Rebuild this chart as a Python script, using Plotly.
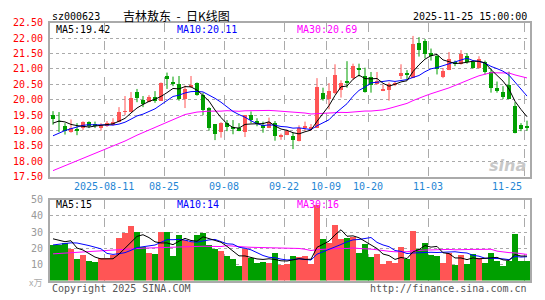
import plotly.graph_objects as go
import pandas as pd

# ---------------- data ----------------
holidays = ["2025-10-01", "2025-10-02", "2025-10-03", "2025-10-06", "2025-10-07", "2025-10-08"]
dates = [d.strftime("%Y-%m-%d") for d in pd.bdate_range("2025-07-29", "2025-11-25")
         if d.strftime("%Y-%m-%d") not in holidays]

opens = [19.50, 19.31, 19.17, 18.96, 19.05, 19.08, 19.29, 19.21, 19.08, 19.16,
         19.20, 19.29, 19.62, 19.60, 20.25, 20.00, 19.94, 20.10, 19.97, 20.77,
         20.58, 20.52, 20.02, 20.44, 20.54, 20.18, 19.73, 19.21, 18.98, 19.27,
         19.14, 19.10, 18.98, 19.50, 19.31, 19.19, 19.10, 19.27, 18.82, 18.88,
         18.85, 18.67, 19.08, 19.06, 19.08, 20.23, 20.04, 20.23, 20.33, 20.61,
         20.70, 21.02, 20.77, 20.75, 20.52, 20.31, 20.33, 20.49, 20.77, 20.87,
         20.72, 21.84, 21.93, 21.53, 21.43, 20.75, 20.99, 21.22, 21.17, 21.43,
         21.22, 21.03, 21.22, 20.91, 20.39, 20.26, 20.49, 19.81, 19.19, 19.14]
highs = [19.63, 19.60, 19.24, 19.36, 19.24, 19.30, 19.30, 19.29, 19.24, 19.31,
         19.40, 19.76, 20.12, 20.25, 20.35, 20.12, 20.15, 20.28, 20.56, 20.88,
         20.75, 20.77, 20.46, 20.77, 20.56, 20.23, 19.76, 19.21, 19.27, 19.34,
         19.34, 19.24, 19.50, 19.62, 19.40, 19.29, 19.42, 19.31, 18.90, 19.03,
         18.93, 19.17, 19.29, 19.21, 20.70, 20.39, 20.54, 21.15, 20.63, 21.25,
         21.17, 21.17, 21.04, 20.90, 20.90, 20.49, 20.56, 20.59, 21.15, 20.96,
         22.07, 22.03, 21.97, 21.66, 21.45, 21.03, 21.55, 21.27, 21.61, 21.51,
         21.27, 21.41, 21.27, 21.01, 20.59, 20.44, 20.91, 19.92, 19.24, 19.32]
lows = [19.19, 18.95, 18.87, 18.93, 18.85, 19.02, 19.08, 19.08, 19.00, 19.12,
        19.16, 19.27, 19.50, 19.60, 19.92, 19.76, 19.92, 19.90, 19.97, 20.35,
        20.44, 19.97, 19.73, 20.38, 20.13, 19.50, 19.00, 18.69, 18.77, 18.98,
        18.88, 18.98, 18.79, 19.24, 19.14, 18.93, 19.08, 18.67, 18.70, 18.85,
        18.40, 18.65, 18.98, 19.00, 19.08, 19.97, 19.69, 20.18, 20.07, 20.39,
        20.65, 20.75, 20.23, 20.23, 20.49, 20.28, 19.97, 20.44, 20.67, 20.65,
        20.70, 21.40, 21.34, 21.27, 20.82, 20.70, 20.96, 21.09, 21.14, 21.17,
        21.01, 21.01, 20.82, 20.23, 20.23, 20.02, 20.02, 18.91, 18.98, 18.99]
closes = [19.40, 19.29, 19.01, 19.08, 19.02, 19.29, 19.17, 19.17, 19.20, 19.26,
          19.29, 19.60, 19.63, 20.07, 20.07, 19.86, 20.10, 19.97, 20.54, 20.68,
          20.54, 20.02, 20.35, 20.49, 20.15, 19.69, 19.10, 18.90, 19.27, 19.14,
          19.09, 19.00, 19.50, 19.34, 19.21, 19.08, 19.29, 18.82, 18.85, 19.00,
          18.69, 19.10, 19.16, 19.13, 20.42, 20.02, 20.31, 20.81, 20.54, 20.54,
          21.11, 20.99, 20.25, 20.49, 20.61, 20.33, 20.52, 20.56, 20.87, 20.80,
          21.82, 21.61, 21.48, 21.43, 21.01, 20.93, 21.34, 21.17, 21.48, 21.22,
          21.03, 21.34, 20.91, 20.39, 20.28, 20.10, 20.05, 18.93, 19.06, 19.10]
volumes = [22.0, 22.0, 23.4, 19.5, 13.5, 15.9, 12.1, 11.5, 13.9, 13.9,
           15.9, 26.4, 29.8, 33.9, 30.5, 21.0, 17.5, 16.7, 30.5, 30.5,
           15.7, 28.2, 25.4, 24.0, 28.2, 29.4, 22.4, 19.8, 18.5, 15.5,
           13.3, 9.2, 19.5, 13.9, 10.9, 11.7, 11.3, 17.3, 9.8, 10.2,
           15.5, 14.7, 15.1, 10.4, 46.8, 26.2, 23.2, 34.5, 26.2, 26.8,
           27.4, 17.3, 22.6, 14.9, 16.7, 10.4, 12.5, 10.8, 20.9, 13.3,
           31.0, 19.7, 23.2, 16.1, 15.5, 11.3, 17.3, 9.6, 16.1, 10.4,
           16.7, 14.3, 10.8, 17.3, 12.5, 9.0, 12.5, 29.2, 12.5, 12.5]

# moving-average values read at the start of the window (history not shown)
ma5_head_idx = [0, 1, 2, 3]
ma5_head = [19.24, 19.31, 19.28, 19.20]
ma10_head_idx = [0, 1, 2, 3, 4, 5, 6, 7, 8]
ma10_head = [18.83, 18.92, 19.00, 19.06, 19.12, 19.17, 19.19, 19.19, 19.19]
ma30_head_idx = [0, 2, 4, 6, 8, 10, 12, 14, 16, 18, 20, 22, 24, 26, 28]
ma30_head = [17.70, 17.86, 18.04, 18.20, 18.36, 18.52, 18.66, 18.85, 19.02, 19.20,
             19.37, 19.52, 19.60, 19.63, 19.63]
vma5_head_idx = [0, 1, 2, 3]
vma5_head = [25.8, 24.9, 24.0, 24.6]
vma10_head_idx = [0, 1, 2, 3, 4, 5, 6, 7, 8]
vma10_head = [22.0, 22.5, 23.0, 23.3, 23.2, 22.5, 21.6, 20.6, 19.6]
vma30_head_idx = [0, 5, 10, 15, 20, 25, 28]
vma30_head = [16.5, 17.7, 18.6, 20.0, 20.6, 21.2, 21.0]

tick_dates = ["2025-08-11", "2025-08-25", "2025-09-08", "2025-09-22", "2025-10-09",
              "2025-10-20", "2025-11-03", "2025-11-25"]
tick_labels = ["2025-08-11", "08-25", "09-08", "09-22", "10-09", "10-20", "11-03", "11-25"]
price_ticks = [17.5, 18.0, 18.5, 19.0, 19.5, 20.0, 20.5, 21.0, 21.5, 22.0, 22.5]
vol_ticks = [10, 20, 30, 40, 50]

# ---------------- helpers ----------------
RED = "#ff5555"
GREEN = "#009f00"
MONO = "DejaVu Sans Mono"
W, H = 545, 300
n = len(closes)
xs = list(range(n))


def py(pix):
    return 1 - pix / H


def sma(vals, k, head_idx, head_vals):
    ix = list(head_idx)
    out = list(head_vals)
    for i in range(k - 1, len(vals)):
        ix.append(i)
        out.append(sum(vals[i - k + 1:i + 1]) / k)
    return ix, out


up = [c >= o for o, c in zip(opens, closes)]
colors = [RED if u else GREEN for u in up]

fig = go.Figure()

# wicks
for flag, col in ((True, RED), (False, GREEN)):
    wx, wy = [], []
    for i in xs:
        if up[i] == flag:
            wx += [i, i, None]
            wy += [lows[i], highs[i], None]
    fig.add_trace(go.Scatter(x=wx, y=wy, mode="lines", line=dict(color=col, width=1),
                             hoverinfo="skip", xaxis="x", yaxis="y"))

# bodies
fig.add_trace(go.Bar(x=xs, base=[min(o, c) for o, c in zip(opens, closes)],
                     y=[max(abs(c - o), 0.02) for o, c in zip(opens, closes)],
                     width=0.75, marker=dict(color=colors, line=dict(width=0)),
                     xaxis="x", yaxis="y"))

# price MAs
for (k, hi, hv, col) in ((30, ma30_head_idx, ma30_head, "#ff00ff"),
                         (10, ma10_head_idx, ma10_head, "#0000ff"),
                         (5, ma5_head_idx, ma5_head, "#000000")):
    ix, v = sma(closes, k, hi, hv)
    fig.add_trace(go.Scatter(x=ix, y=v, mode="lines", line=dict(color=col, width=1),
                             xaxis="x", yaxis="y"))

# volume bars
fig.add_trace(go.Bar(x=xs, y=volumes, width=0.85,
                     marker=dict(color=colors, line=dict(width=0)),
                     xaxis="x2", yaxis="y2"))
for (k, hi, hv, col) in ((30, vma30_head_idx, vma30_head, "#ff00ff"),
                         (10, vma10_head_idx, vma10_head, "#0000ff"),
                         (5, vma5_head_idx, vma5_head, "#000000")):
    ix, v = sma(volumes, k, hi, hv)
    fig.add_trace(go.Scatter(x=ix, y=v, mode="lines", line=dict(color=col, width=1),
                             xaxis="x2", yaxis="y2"))

tickpos = [dates.index(d) - 0.5 for d in tick_dates]
grid = "#aaaaaa"
xcommon = dict(domain=[50 / W, 530 / W], range=[-0.5, n - 0.5], tickvals=tickpos,
               showticklabels=False, ticks="", showgrid=True, gridcolor=grid,
               griddash="dash", gridwidth=1, showline=True, mirror=True,
               linecolor=grid, linewidth=2, zeroline=False, fixedrange=True)

fig.update_layout(
    width=W, height=H, margin=dict(l=0, r=0, t=0, b=0),
    paper_bgcolor="white", plot_bgcolor="white", showlegend=False,
    barmode="overlay", bargap=0,
    xaxis=dict(anchor="y", **xcommon),
    xaxis2=dict(anchor="y2", matches="x", **xcommon),
    yaxis=dict(domain=[py(177.3), py(17.3)], range=[17.5, 22.5], tickvals=price_ticks,
               tickformat=".2f", ticks="", ticklabelstandoff=3,
               tickfont=dict(family=MONO, size=10, color="#ff0000"),
               showgrid=True, gridcolor=grid, griddash="dot", gridwidth=1,
               showline=True, mirror=True, linecolor=grid, linewidth=2, zeroline=False),
    yaxis2=dict(domain=[py(285), py(201)], range=[0, 50], tickvals=vol_ticks,
                ticks="", ticklabelstandoff=3,
                tickfont=dict(family=MONO, size=10, color="#999999"),
                showgrid=True, gridcolor=grid, griddash="dot", gridwidth=1,
                showline=True, mirror=True, linecolor=grid, linewidth=2, zeroline=False),
)

ann = []
for pos, lab in zip(tickpos, tick_labels):
    last = lab == tick_labels[-1]
    ann.append(dict(x=pos, xref="x", y=py(187), yref="paper", text=lab, showarrow=False,
                    xanchor="right" if last else "center", yanchor="middle",
                    font=dict(family=MONO, size=10, color="#1f86d4")))


def txt(x, y, s, color="#000000", size=10, anchor="left", family=MONO, **kw):
    ann.append(dict(x=x / W, xref="paper", y=py(y), yref="paper", text=s, showarrow=False,
                    xanchor=anchor, yanchor="middle",
                    font=dict(family=family, size=size, color=color, **kw)))


NB = "\u00a0"
txt(50, 11, "sz000623")
txt(176, 10, "吉林敖东" + NB * 2 + "-" + NB * 2 + "日K线图", size=12, anchor="center",
    family="Noto Sans CJK SC")
txt(529, 11, "2025-11-25 15:00:00", anchor="right")
txt(54, 24, "MA5:19.42")
txt(175, 24, "MA10:20.11", color="#0000ff")
txt(295, 24, "MA30:20.69", color="#ff00ff")
txt(54, 206, "MA5:15")
txt(175, 206, "MA10:14", color="#0000ff")
txt(295, 206, "MA30:16", color="#ff00ff")
txt(44, 287, "x万", color="#aaaaaa", size=9, anchor="right", family="Noto Sans CJK SC")
txt(50, 293, "Copyright 2025 SINA.COM", color="#555555")
txt(529, 293, "http://finance.sina.com.cn", color="#555555", anchor="right")
txt(528, 166, "sina", color="#c8c8c8", size=16, anchor="right", family="DejaVu Sans",
    weight="bold", style="italic")

fig.update_layout(annotations=ann)
fig.write_html("out.html")
